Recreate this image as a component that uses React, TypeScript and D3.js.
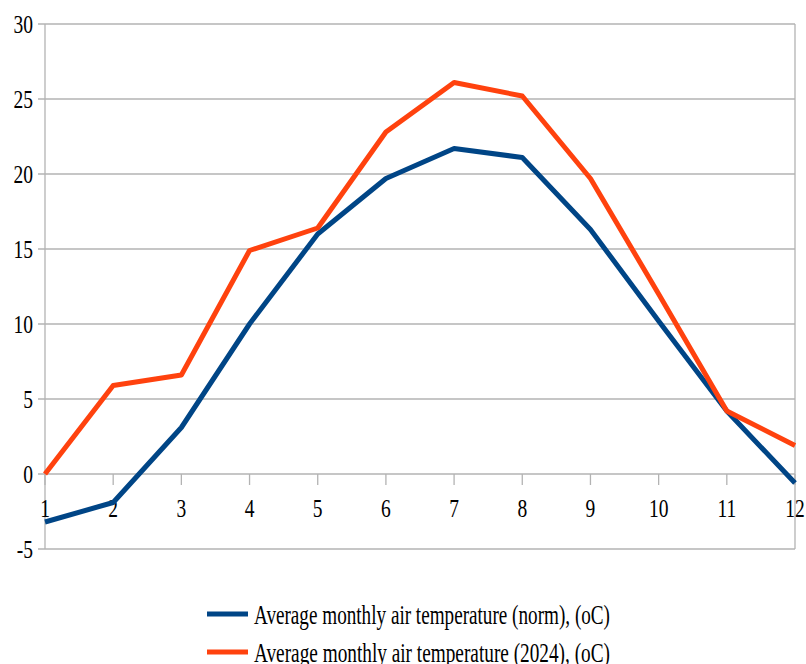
import React from "react";
import * as d3 from "d3";

const months = [1, 2, 3, 4, 5, 6, 7, 8, 9, 10, 11, 12];
const normValues = [-3.2, -1.9, 3.1, 10.0, 16.0, 19.7, 21.7, 21.1, 16.3, 10.2, 4.2, -0.6];
const y2024Values = [0.0, 5.9, 6.6, 14.9, 16.4, 22.8, 26.1, 25.2, 19.7, 12.0, 4.2, 1.9];
const yTicks = [-5, 0, 5, 10, 15, 20, 25, 30];
const seriesNames = [
  "Average monthly air temperature (norm), (oC)",
  "Average monthly air temperature (2024), (oC)",
];
const colors = ["#004586", "#ff420e"];

export default function App() {
  const W = 806, H = 664;
  const left = 45, right = 795, top = 24, bottom = 549;
  const x = d3.scaleLinear().domain([1, 12]).range([left, right]);
  const y = d3.scaleLinear().domain([-5, 30]).range([bottom, top]);
  const line = d3
    .line<number>()
    .x((_, i) => x(months[i]))
    .y((d) => y(d));
  const font = "'Liberation Serif', 'Times New Roman', serif";
  const grid = "#b3b3b3";
  const series = [normValues, y2024Values];
  const sx = 0.78;

  return (
    <svg
      width={W}
      height={H}
      style={{ position: "absolute", left: 0, top: 0, background: "#fff" }}
    >
      {yTicks.map((t) => (
        <g key={t}>
          <line x1={left - 7} x2={right} y1={y(t)} y2={y(t)} stroke={grid} strokeWidth={1.3} />
          <g transform={`translate(33, ${y(t) + 8.5}) scale(${sx}, 1)`}>
            <text x={0} y={0} textAnchor="end" fontSize={25} fontFamily={font} fill="#000">
              {t}
            </text>
          </g>
        </g>
      ))}
      <line x1={left} x2={left} y1={top} y2={bottom} stroke={grid} strokeWidth={1.3} />
      <line x1={right} x2={right} y1={top} y2={bottom} stroke={grid} strokeWidth={1.3} />
      {months.map((m) => (
        <g key={m}>
          <line x1={x(m)} x2={x(m)} y1={y(0)} y2={y(0) + 11} stroke={grid} strokeWidth={1.3} />
          <g transform={`translate(${x(m)}, ${y(0) + 43}) scale(${sx}, 1)`}>
            <text x={0} y={0} textAnchor="middle" fontSize={25} fontFamily={font} fill="#000">
              {m}
            </text>
          </g>
        </g>
      ))}
      {series.map((s, i) => (
        <path
          key={i}
          d={line(s) || ""}
          fill="none"
          stroke={colors[i]}
          strokeWidth={5}
          strokeLinejoin="round"
        />
      ))}
      {seriesNames.map((n, i) => (
        <g key={n} transform={`translate(0, ${614 + i * 38})`}>
          <line x1={207} x2={248} y1={0} y2={0} stroke={colors[i]} strokeWidth={5} />
          <text
            x={254}
            y={10}
            fontSize={27}
            fontFamily={font}
            fill="#000"
            textLength={356}
            lengthAdjust="spacingAndGlyphs"
          >
            {n}
          </text>
        </g>
      ))}
    </svg>
  );
}
